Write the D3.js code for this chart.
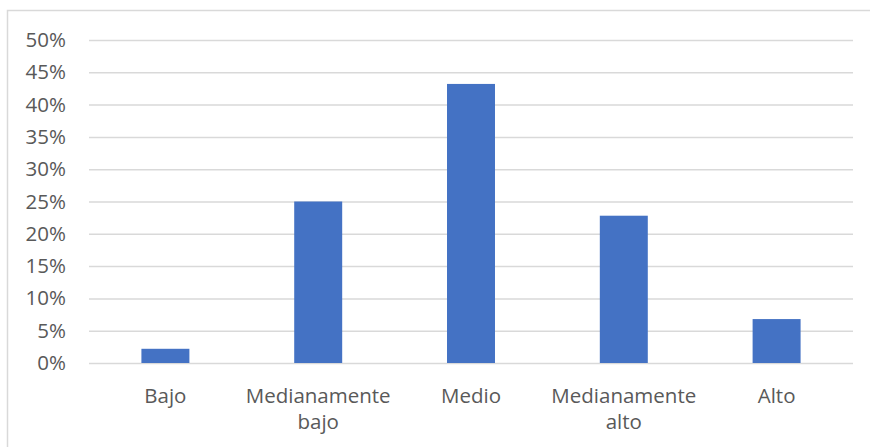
<!DOCTYPE html>
<html>
<head>
<meta charset="utf-8">
<script src="https://cdn.jsdelivr.net/npm/d3@7"></script>
<style>
  html, body { margin: 0; padding: 0; background: #fff; }
  svg { display: block; }
  text { font-family: "Open Sans", sans-serif; fill: #595959; }
</style>
</head>
<body>
<svg id="chart" width="870" height="447"></svg>
<script>
const categories = [["Bajo"], ["Medianamente", "bajo"], ["Medio"], ["Medianamente", "alto"], ["Alto"]];
const values = [0.022, 0.25, 0.432, 0.228, 0.068];
const yTicks = [0, 0.05, 0.10, 0.15, 0.20, 0.25, 0.30, 0.35, 0.40, 0.45, 0.50];

const svg = d3.select("#chart");
const W = 870, H = 447;
const margin = { left: 89, right: 17, top: 40, bottom: 84 };
const FS = 20.5;

svg.append("rect")
  .attr("x", 7.5).attr("y", 10.5)
  .attr("width", W).attr("height", H)
  .attr("fill", "#fff").attr("stroke", "#d9d9d9").attr("stroke-width", 1.5);

const x = d3.scaleBand()
  .domain(categories.map((d, i) => i))
  .range([margin.left, W - margin.right])
  .paddingInner(0.686).paddingOuter(0.343);

const y = d3.scaleLinear().domain([0, 0.5]).range([363, 40]);

const yAxis = d3.axisLeft(y).tickValues(yTicks)
  .tickFormat(d3.format(".0%"))
  .tickSize(-(W - margin.right - margin.left)).tickPadding(23);

const gy = svg.append("g").attr("transform", `translate(${margin.left},0)`).call(yAxis);
gy.select(".domain").remove();
gy.selectAll(".tick line").attr("stroke", "#d9d9d9").attr("stroke-width", 1.5);
gy.selectAll(".tick text").attr("font-size", FS).attr("fill", "#595959")
  .style("font-family", '"Open Sans", sans-serif');

svg.append("g").selectAll("rect").data(values).join("rect")
  .attr("x", (d, i) => x(i))
  .attr("width", x.bandwidth())
  .attr("y", d => y(d))
  .attr("height", d => y(0) - y(d))
  .attr("fill", "#4472c4");

const gx = svg.append("g");
categories.forEach((lines, i) => {
  const cx = x(i) + x.bandwidth() / 2;
  const t = gx.append("text")
    .attr("text-anchor", "middle")
    .attr("font-size", FS)
    .attr("x", cx)
    .attr("y", 403);
  lines.forEach((ln, j) => {
    t.append("tspan").attr("x", cx).attr("dy", j === 0 ? 0 : 26).text(ln);
  });
});
</script>
</body>
</html>
